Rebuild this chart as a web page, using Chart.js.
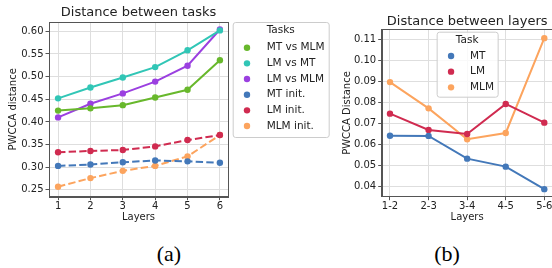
<!DOCTYPE html>
<html>
<head>
<meta charset="utf-8">
<script src="https://cdn.jsdelivr.net/npm/chart.js@4/dist/chart.umd.min.js"></script>
<style>
  html, body { margin: 0; padding: 0; background: #fff; overflow: hidden; }
  body { position: relative; width: 552px; height: 268px; }
  canvas { position: absolute; top: 0; }
  #chartA { left: 0; }
  #chartB { left: 330px; }
  .cap { position: absolute; top: 241px; width: 60px; text-align: center;
         font: 22px "Liberation Serif", "Times New Roman", serif; color: #000; }
</style>
</head>
<body>
<canvas id="chartA" width="330" height="230"></canvas>
<canvas id="chartB" width="230" height="230"></canvas>
<div class="cap" style="left:139px">(a)</div>
<div class="cap" style="left:417px">(b)</div>
<script>
'use strict';

// (a) distance between tasks, per layer
var taskLayers = [1, 2, 3, 4, 5, 6];
var taskTicks = [0.25, 0.30, 0.35, 0.40, 0.45, 0.50, 0.55, 0.60];
var mtVsMlm = [0.425, 0.430, 0.437, 0.454, 0.471, 0.536];
var lmVsMt = [0.452, 0.476, 0.498, 0.521, 0.558, 0.602];
var lmVsMlm = [0.410, 0.440, 0.463, 0.489, 0.524, 0.604];
var mtInit = [0.303, 0.306, 0.311, 0.315, 0.313, 0.310];
var lmInit = [0.333, 0.336, 0.338, 0.346, 0.360, 0.371];
var mlmInit = [0.257, 0.276, 0.292, 0.303, 0.324, 0.371];

// (b) distance between consecutive layers
var layerPairs = ['1-2', '2-3', '3-4', '4-5', '5-6'];
var layerTicks = [0.04, 0.05, 0.06, 0.07, 0.08, 0.09, 0.10, 0.11];
var mtDist = [0.0642, 0.0641, 0.0533, 0.0495, 0.0388];
var lmDist = [0.0747, 0.0669, 0.0650, 0.0793, 0.0704];
var mlmDist = [0.0897, 0.0772, 0.0625, 0.0655, 0.1106];

var GREEN = '#68b82c', TEAL = '#31c6b6', PURPLE = '#9b40e0',
  BLUE = '#4378b9', RED = '#d02b50', ORANGE = '#fca45e';
var FONT = 'DejaVu Sans';
var TEXT = '#222';

function points(xs, ys) {
  return ys.map(function (y, i) { return {x: xs[i], y: y}; });
}

function series(label, color, xs, ys, dashed) {
  return {
    label: label,
    data: points(xs, ys),
    borderColor: color,
    backgroundColor: color,
    borderWidth: 2,
    borderDash: dashed ? [7.4, 3.2] : [],
    pointRadius: 3.2,
    pointBorderWidth: 0,
    tension: 0
  };
}

// put the ticks exactly where the values say
function fixedTicks(values) {
  return function (scale) {
    scale.ticks = values.map(function (v) { return {value: v}; });
  };
}

// frame on all four sides, like matplotlib spines
var framePlugin = {
  id: 'frame',
  beforeDatasetsDraw(chart) {
    var a = chart.chartArea, ctx = chart.ctx;
    ctx.save();
    ctx.strokeStyle = '#555';
    ctx.lineWidth = 1;
    ctx.strokeRect(Math.round(a.left) + 0.5, Math.round(a.top) + 0.5,
      Math.round(a.right - a.left), Math.round(a.bottom - a.top));
    ctx.restore();
  }
};

// matplotlib-looking boxed legend with a title
var boxLegend = {
  id: 'boxLegend',
  afterDraw(chart, args, o) {
    var a = chart.chartArea, ctx = chart.ctx;
    var left = o.center ? (a.left + a.right) / 2 - o.width / 2 : a.right + o.dx;
    var top = a.top + o.dy;
    ctx.save();
    ctx.beginPath();
    ctx.roundRect(left + 0.5, top + 0.5, o.width, o.height, 2.5);
    ctx.fillStyle = 'rgba(255,255,255,0.8)';
    ctx.fill();
    ctx.strokeStyle = '#cccccc';
    ctx.lineWidth = 1;
    ctx.stroke();
    ctx.fillStyle = TEXT;
    ctx.font = '10.5px "' + FONT + '"';
    ctx.textBaseline = 'middle';
    ctx.textAlign = 'center';
    ctx.fillText(o.title, left + o.width / 2, top + o.titleY);
    ctx.textAlign = 'left';
    chart.data.datasets.forEach(function (ds, i) {
      var y = top + o.rowY + i * o.rowStep;
      ctx.beginPath();
      ctx.arc(left + o.markX, y, 3.2, 0, Math.PI * 2);
      ctx.fillStyle = ds.borderColor;
      ctx.fill();
      ctx.fillStyle = TEXT;
      ctx.fillText(ds.label, left + o.textX, y);
    });
    ctx.restore();
  }
};

function axisTitle(text, pad) {
  return {display: true, text: text, color: TEXT, font: {family: FONT, size: 10}, padding: pad};
}

function gridOpts() {
  return {color: '#dedede', lineWidth: 1, tickLength: 3.5, tickColor: '#555'};
}

new Chart(document.getElementById('chartA'), {
  type: 'line',
  data: {
    datasets: [
      series('MT vs MLM', GREEN, taskLayers, mtVsMlm),
      series('LM vs MT', TEAL, taskLayers, lmVsMt),
      series('LM vs MLM', PURPLE, taskLayers, lmVsMlm),
      series('MT init.', BLUE, taskLayers, mtInit, true),
      series('LM init.', RED, taskLayers, lmInit, true),
      series('MLM init.', ORANGE, taskLayers, mlmInit, true)
    ]
  },
  options: {
    responsive: false,
    animation: false,
    layout: {padding: {left: 0, right: 102, top: 0, bottom: 0}},
    plugins: {
      legend: {display: false},
      tooltip: {enabled: false},
      title: {
        display: true, text: 'Distance between tasks', fullSize: false,
        color: TEXT, font: {family: FONT, size: 13, weight: 'normal'},
        padding: {top: 5, bottom: 1.4}
      },
      boxLegend: {title: 'Tasks', dx: 4.7, dy: 0, width: 96, height: 115,
        titleY: 8, rowY: 25.7, rowStep: 15.66, markX: 14.3, textX: 34}
    },
    scales: {
      x: {
        type: 'linear', min: 0.72, max: 6.25, bounds: 'data',
        afterBuildTicks: fixedTicks(taskLayers),
        afterFit: function (s) { s.height = 33.3; },
        grid: gridOpts(), border: {color: '#555'},
        ticks: {padding: 0, color: TEXT, font: {family: FONT, size: 10}},
        title: axisTitle('Layers', {top: 0, bottom: 7})
      },
      y: {
        type: 'linear', min: 0.235, max: 0.6205, bounds: 'data',
        afterBuildTicks: fixedTicks(taskTicks),
        afterFit: function (s) { s.width = 49; },
        grid: gridOpts(), border: {color: '#555'},
        ticks: {
          padding: 2, color: TEXT, font: {family: FONT, size: 10},
          callback: function (v) { return v.toFixed(2); }
        },
        title: axisTitle('PWCCA distance', {top: 7, bottom: 0})
      }
    }
  },
  plugins: [framePlugin, boxLegend]
});

var pairIndex = layerPairs.map(function (p, i) { return i; });

new Chart(document.getElementById('chartB'), {
  type: 'line',
  data: {
    datasets: [
      series('MT', BLUE, pairIndex, mtDist),
      series('LM', RED, pairIndex, lmDist),
      series('MLM', ORANGE, pairIndex, mlmDist)
    ]
  },
  options: {
    responsive: false,
    animation: false,
    layout: {padding: {left: 0, right: 7.4, top: 0, bottom: 0}},
    plugins: {
      legend: {display: false},
      tooltip: {enabled: false},
      title: {
        display: true, text: 'Distance between layers', fullSize: false,
        color: TEXT, font: {family: FONT, size: 13, weight: 'normal'},
        padding: {top: 13.7, bottom: 0}
      },
      boxLegend: {title: 'Task', center: true, dy: 2.4, width: 61, height: 65,
        titleY: 8.3, rowY: 24.3, rowStep: 15.67, markX: 14.4, textX: 33.4}
    },
    scales: {
      x: {
        type: 'linear', min: -0.215, max: 4.215, bounds: 'data',
        afterBuildTicks: fixedTicks(pairIndex),
        afterFit: function (s) { s.height = 33.3; },
        grid: gridOpts(), border: {color: '#555'},
        ticks: {
          padding: 0, color: TEXT, font: {family: FONT, size: 10},
          callback: function (v) { return layerPairs[v]; }
        },
        title: axisTitle('Layers', {top: 0, bottom: 7})
      },
      y: {
        type: 'linear', min: 0.0352, max: 0.1148, bounds: 'data',
        afterBuildTicks: fixedTicks(layerTicks),
        afterFit: function (s) { s.width = 51.7; },
        grid: gridOpts(), border: {color: '#555'},
        ticks: {
          padding: 2, color: TEXT, font: {family: FONT, size: 10},
          callback: function (v) { return v.toFixed(2); }
        },
        title: axisTitle('PWCCA Distance', {top: 11, bottom: 0})
      }
    }
  },
  plugins: [framePlugin, boxLegend]
});
</script>
</body>
</html>
